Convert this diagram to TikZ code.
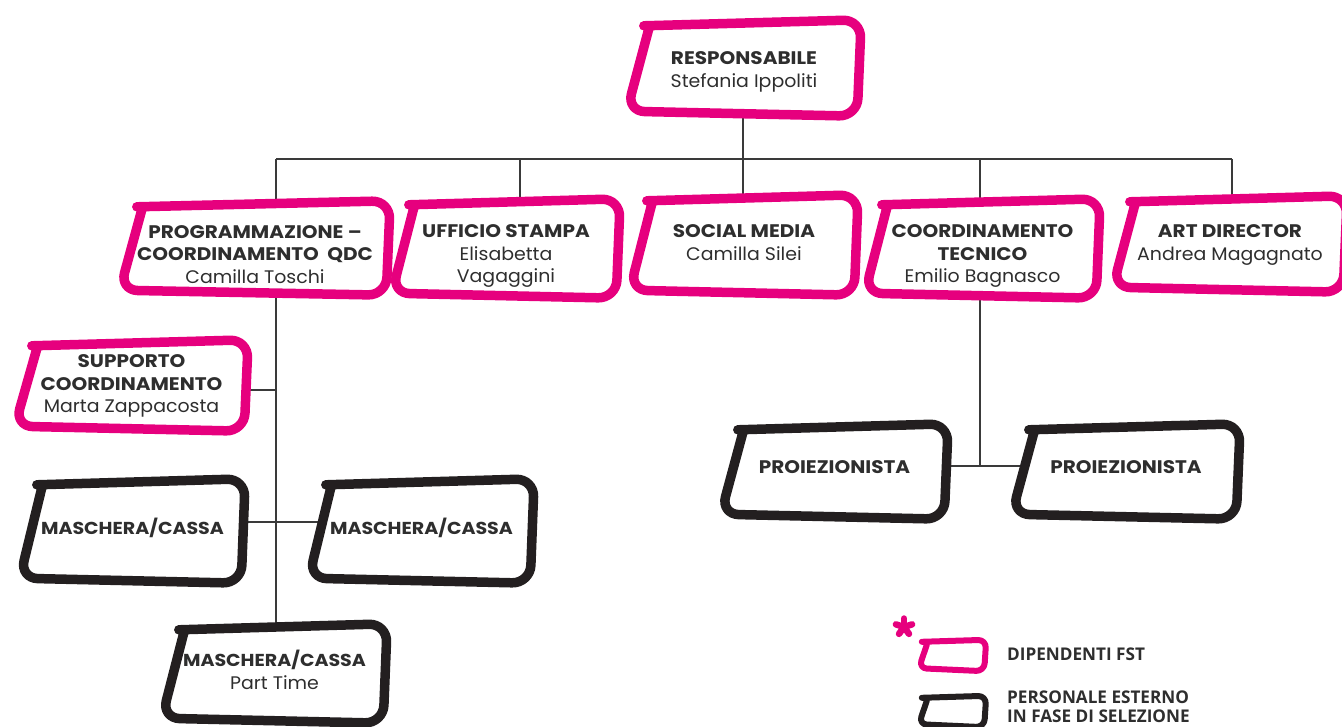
\documentclass[tikz,border=0pt]{standalone}
\usepackage{fontspec}
\setmainfont[UprightFeatures={FakeStretch=1.04},BoldFeatures={FakeStretch=1.1}]{Poppins}
\newfontfamily\legendfont[FakeStretch=0.98]{Open Sans}
\usetikzlibrary{calc}
\definecolor{fstpink}{HTML}{E6007E}
\definecolor{fstblack}{HTML}{231F20}
\definecolor{txtgray}{HTML}{2E2E2E}
\definecolor{conngray}{HTML}{3A3A3A}
\newcommand{\tx}[2]{\raisebox{#1}[\height][\depth]{\begin{tabular}{@{}c@{}}#2\end{tabular}}}
\newcommand{\sketchbox}[2]{%
  \draw[#2, line width=9.5pt, line cap=round, line join=round, rounded corners=18pt]
    ($(#1.north west)+(22,12)$) -- ($(#1.north east)+(-5,6)$) --
    ($(#1.south east)+(-9,-5)$) -- ($(#1.south west)+(5,-10)$) --
    ($(#1.north west)+(27,15)$);}
\newcommand{\smallsketch}[2]{%
  \draw[#2, line width=6pt, line cap=round, line join=round, rounded corners=8pt]
    ($(#1.north west)+(7,5)$) -- ($(#1.north east)+(-4,3)$) --
    ($(#1.south east)+(-6,-4)$) -- ($(#1.south west)+(4,-7)$) --
    ($(#1.north west)+(12,8)$);}
\begin{document}
\begin{tikzpicture}[x=1pt,y=-1pt,
  box/.style args={#1x#2}{minimum width=#1pt, minimum height=#2pt, inner sep=0pt,
    text=txtgray, font=\fontsize{18.2}{22.5}\selectfont, align=center},
  smalltext/.style={font=\fontsize{17.3}{22.5}\selectfont},
  conn/.style={draw=conngray, line width=2pt},
  legendtxt/.style={inner sep=0pt, text=txtgray, font=\legendfont\bfseries\fontsize{17.5}{19}\selectfont},
  mini/.style={minimum width=75pt, minimum height=38pt, inner sep=0pt}]
\useasboundingbox (0,0) rectangle (1342,727);
\clip (0,0) rectangle (1342,727);

% nodes
\node[box=244x107] (R) at (744,67.5) {\tx{-4pt}{\textbf{RESPONSABILE}\\Stefania Ippoliti}};
\node[box=280x105] (P) at (255,247.5) {\tx{-9pt}{\textbf{PROGRAMMAZIONE –}\\\textbf{COORDINAMENTO~~QDC}\\Camilla Toschi}};
\node[box=238x110] (U) at (506,248) {\tx{-8pt}{\textbf{UFFICIO STAMPA}\\Elisabetta\\Vagaggini}};
\node[box=238x111] (S) at (744,244.5) {\tx{0pt}{\textbf{SOCIAL MEDIA}\\Camilla Silei}};
\node[box=245x110] (C) at (982.5,248) {\tx{-8pt}{\textbf{COORDINAMENTO}\\\textbf{TECNICO}\\Emilio Bagnasco}};
\node[box=244x107] (A) at (1230,243.5) {\tx{-1pt}{\textbf{ART DIRECTOR}\\Andrea Magagnato}};
\node[box=243x102] (SUP) at (131.5,385) {\tx{-1pt}{\textbf{SUPPORTO}\\\textbf{COORDINAMENTO}\\Marta Zappacosta}};
\node[box=235x115, smalltext] (M1) at (132.5,530.5) {\tx{1pt}{\textbf{MASCHERA/CASSA}}};
\node[box=235x115, smalltext] (M2) at (421.5,530.5) {\tx{1pt}{\textbf{MASCHERA/CASSA}}};
\node[box=235x110, smalltext] (MPT) at (274.5,673) {\tx{0pt}{\textbf{MASCHERA/CASSA}\\\fontsize{18.2}{22.5}\selectfont Part Time}};
\node[box=237x106] (PR1) at (834.5,471) {\tx{2pt}{\textbf{PROIEZIONISTA}}};
\node[box=238x106] (PR2) at (1126,471) {\tx{2pt}{\textbf{PROIEZIONISTA}}};

% connector coordinates
\coordinate (bL) at (276,159);
\coordinate (bU) at (520,159);
\coordinate (bS) at (743,159);
\coordinate (bC) at (980,159);
\coordinate (bA) at (1232,159);
\coordinate (supJ) at (276,390);
\coordinate (mJ) at (276,522);
\coordinate (pJ) at (980,466);

% connectors
\draw[conn] (bL) -- (bA);
\draw[conn, shorten <=-8pt] (bS |- R.south) -- (bS);
\draw[conn, shorten >=-9pt] (bL) -- (bL |- P.north);
\draw[conn, shorten >=-9pt] (bU) -- (bU |- U.north);
\draw[conn, shorten >=-9pt] (bS) -- (bS |- S.north);
\draw[conn, shorten >=-9pt] (bC) -- (bC |- C.north);
\draw[conn, shorten >=-9pt] (bA) -- (bA |- A.north);
\draw[conn, shorten <=-8pt, shorten >=-9pt] (bL |- P.south) -- (bL |- MPT.north);
\draw[conn, shorten <=-6pt] (SUP.east |- supJ) -- (supJ);
\draw[conn, shorten <=-6pt, shorten >=-16pt] (M1.east |- mJ) -- (M2.west |- mJ);
\draw[conn, shorten <=-8pt] (bC |- C.south) -- (pJ);
\draw[conn, shorten <=-6pt, shorten >=-16pt] (PR1.east |- pJ) -- (PR2.west |- pJ);

% box outlines
\foreach \n in {R,P,U,S,C,A,SUP} {\sketchbox{\n}{fstpink}}
\foreach \n in {M1,M2,MPT,PR1,PR2} {\sketchbox{\n}{fstblack}}

% legend
\node[mini] (LP) at (952.5,656) {};
\node[mini] (LB) at (952.5,712) {};
\smallsketch{LP}{fstpink}
\smallsketch{LB}{fstblack}
\foreach \a in {-90,-18,54,126,198}
  \draw[fstpink, line width=6.5pt, line cap=round] (904,627) -- ++(\a:8.5);
\node[legendtxt, anchor=base west] (lg1) at (1007,660) {DIPENDENTI FST};
\node[legendtxt, anchor=base west] (lg2) at (1007,703) {PERSONALE ESTERNO};
\node[legendtxt, anchor=base west] (lg3) at (1007,722) {IN FASE DI SELEZIONE};
\end{tikzpicture}
\end{document}
